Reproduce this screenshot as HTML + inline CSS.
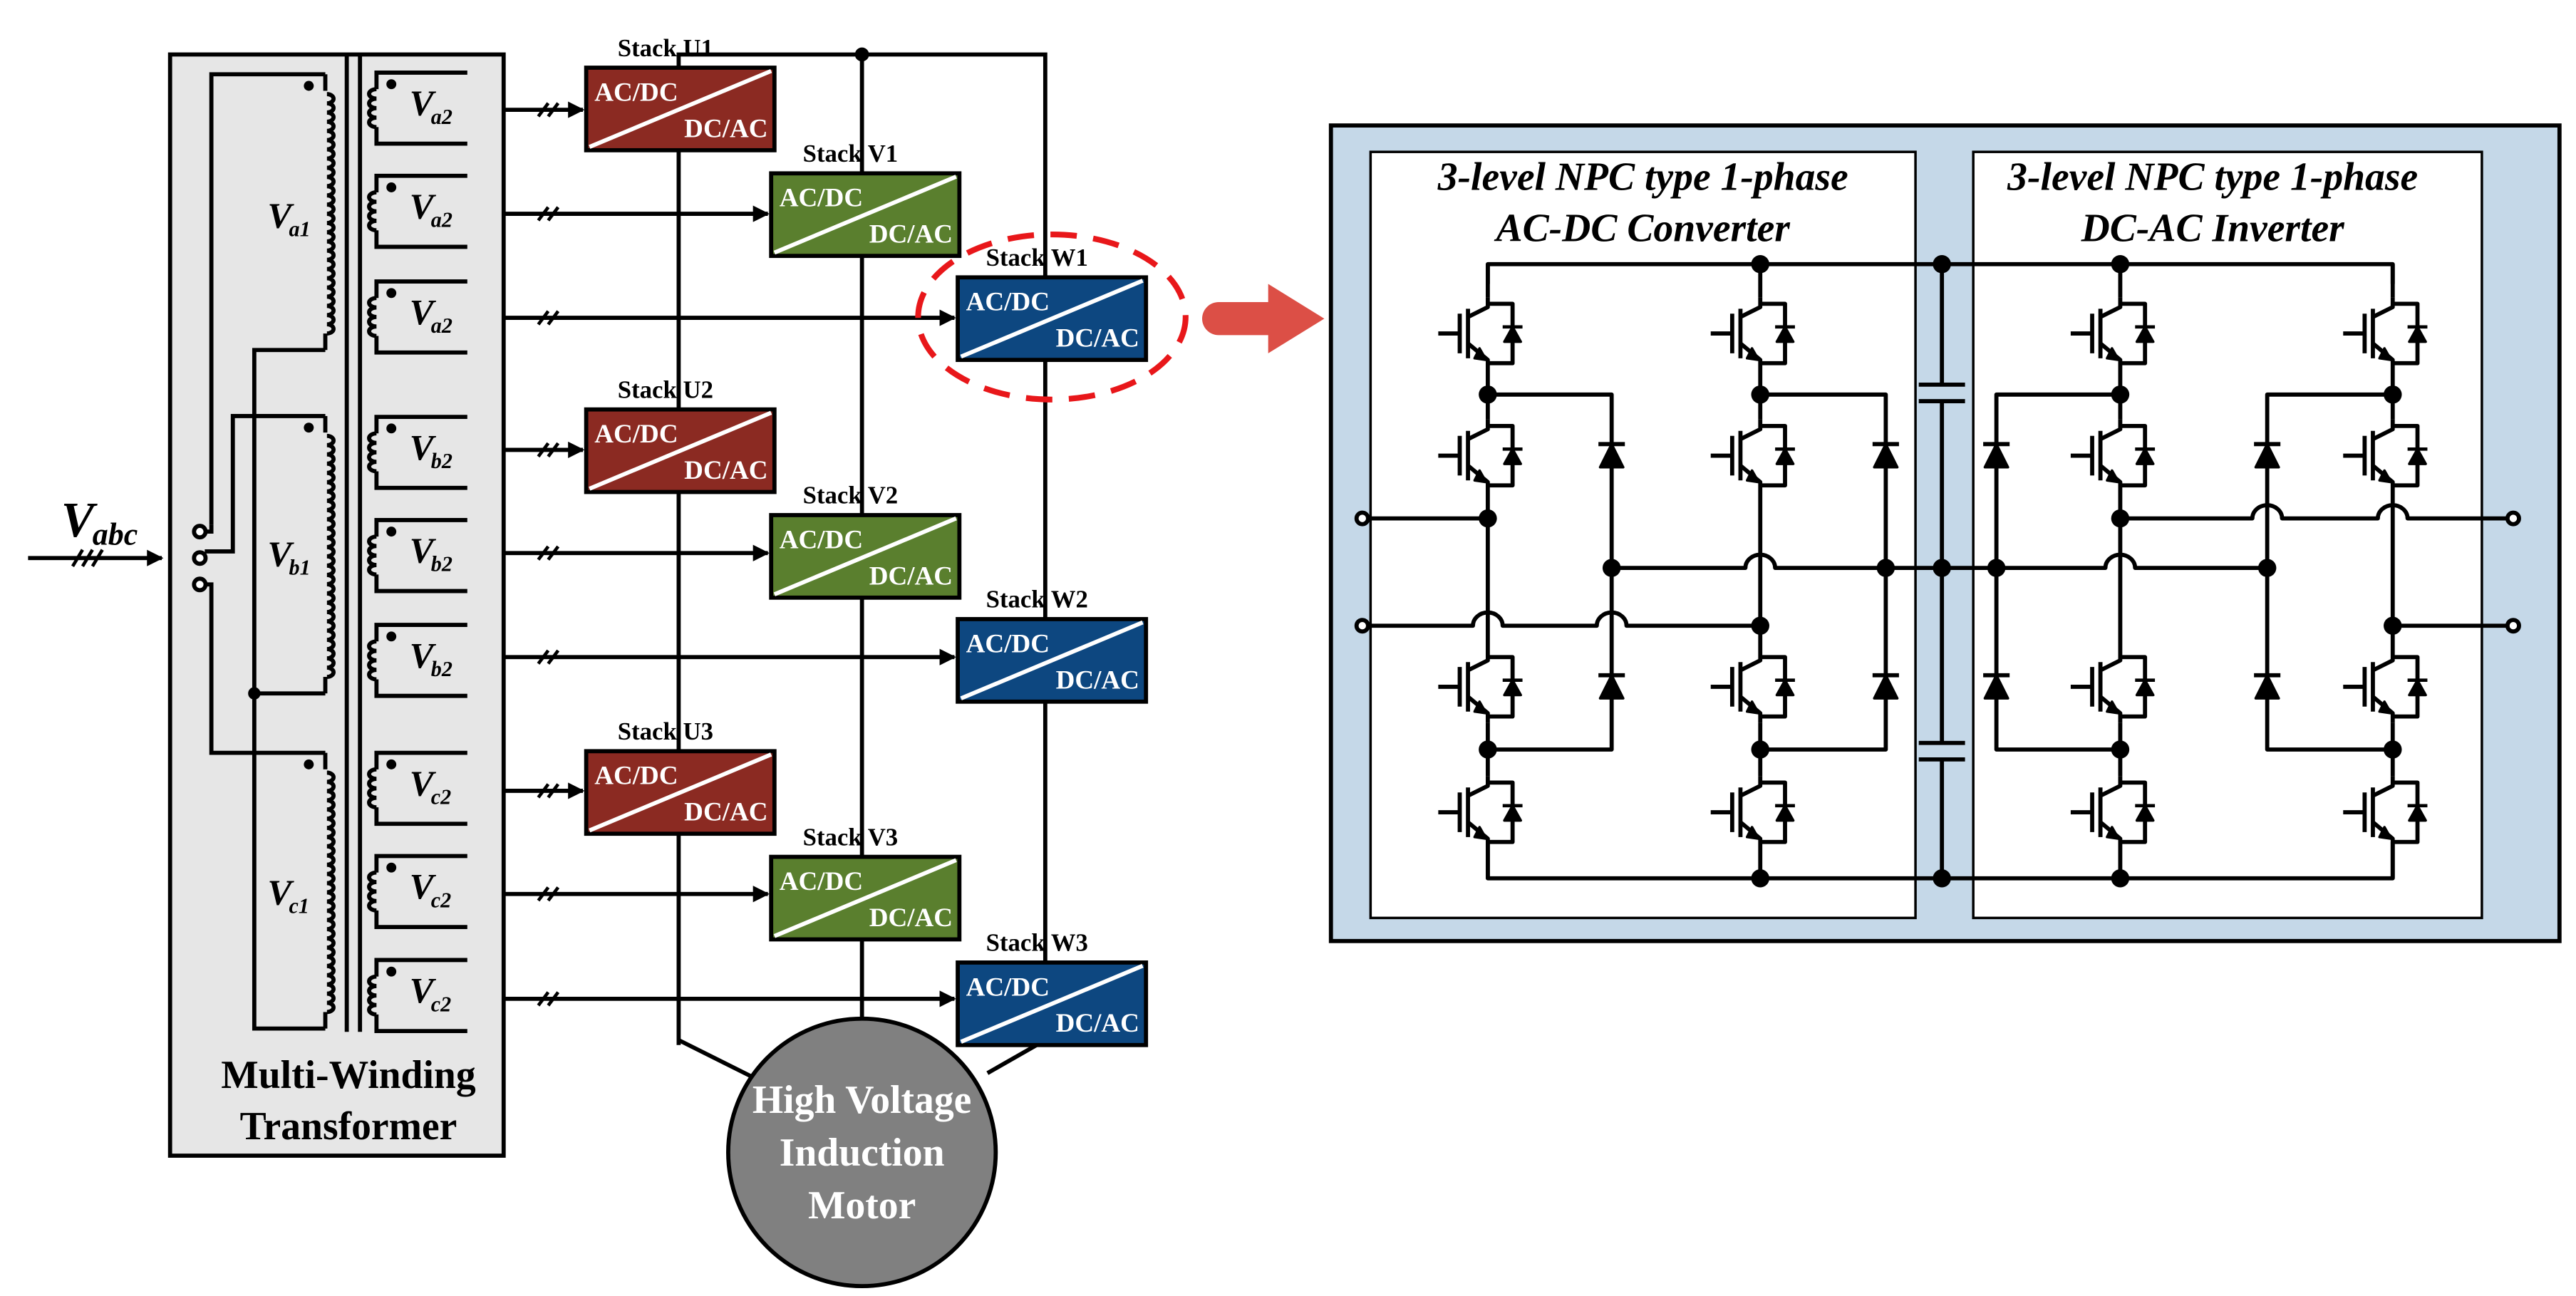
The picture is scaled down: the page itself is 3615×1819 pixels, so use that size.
<!DOCTYPE html>
<html><head><meta charset="utf-8"><style>
html,body{margin:0;padding:0;background:#fff;}
svg{display:block;}
.t{font-family:"Liberation Serif",serif;font-weight:bold;}
</style></head><body>
<svg id="s" width="3615" height="1819" viewBox="0 0 1560 785" preserveAspectRatio="none" xmlns="http://www.w3.org/2000/svg">
<defs>
<marker id="ah" viewBox="0 0 10 10" refX="9" refY="5" markerWidth="4" markerHeight="4" orient="auto"><path d="M0,0L10,5L0,10z" fill="#000"/></marker>
</defs>
<!-- transformer -->
<rect x="103" y="33" width="202" height="667" fill="#e6e6e6" stroke="#000" stroke-width="2.5"/>
<g id="g1" fill="none" stroke="#000" stroke-width="2.5"></g>
<g id="gc" fill="none" stroke="#000" stroke-width="2.5"></g>
<!-- labels -->
<g class="t" font-style="italic" fill="#000">
<text x="37" y="325" font-size="30">V</text><text x="56" y="330" font-size="19">abc</text>
<text x="162" y="138" font-size="22">V</text><text x="175" y="143" font-size="13">a1</text>
<text x="162" y="343" font-size="22">V</text><text x="175" y="348" font-size="13">b1</text>
<text x="162" y="548" font-size="22">V</text><text x="175" y="553" font-size="13">c1</text>
</g>
<g id="sl" class="t" font-style="italic" fill="#000"></g>
<text class="t" x="211" y="659" font-size="24" text-anchor="middle">Multi-Winding</text>
<text class="t" x="211" y="690" font-size="24" text-anchor="middle">Transformer</text>
<!-- stacks -->
<g id="st"></g>
<!-- motor -->
<circle cx="522" cy="698" r="81" fill="#808080" stroke="#000" stroke-width="2.5"/>
<g class="t" fill="#fff" font-size="24" text-anchor="middle">
<text x="522" y="674">High Voltage</text><text x="522" y="706">Induction</text><text x="522" y="738">Motor</text>
</g>
<!-- red ellipse + arrow -->
<ellipse cx="637" cy="192" rx="81" ry="50" fill="none" stroke="#e8171a" stroke-width="3.5" stroke-dasharray="16,10"/>
<path d="M738,183 L768,183 L768,172 L802,193 L768,214 L768,203 L738,203 A10,10 0 0 1 738,183z" fill="#dc4f46"/>
<!-- right panel -->
<rect x="806" y="76" width="744" height="494" fill="#c5d8e8" stroke="#000" stroke-width="2.5"/>
<rect x="830" y="92" width="330" height="464" fill="#fff" stroke="#000" stroke-width="1.5"/>
<rect x="1195" y="92" width="308" height="464" fill="#fff" stroke="#000" stroke-width="1.5"/>
<g class="t" font-style="italic" font-size="24" text-anchor="middle" fill="#000">
<text x="995" y="115">3-level NPC type 1-phase</text><text x="995" y="146">AC-DC Converter</text>
<text x="1340" y="115">3-level NPC type 1-phase</text><text x="1340" y="146">DC-AC Inverter</text>
</g>
<g id="ckt" fill="none" stroke="#000" stroke-width="2.5" stroke-linejoin="round"></g>
</svg>
<script>
var NS="http://www.w3.org/2000/svg";
function el(p,tag,a,txt){var e=document.createElementNS(NS,tag);for(var k in a)e.setAttribute(k,a[k]);if(txt)e.textContent=txt;document.getElementById(p).appendChild(e);return e;}
function P(p,d,extra){var a={d:d};if(extra)for(var k in extra)a[k]=extra[k];return el(p,'path',a);}
// primary coils
function coilR(x,y1,y2,n){var h=(y2-y1)/n,d='M'+x+','+y1;for(var i=0;i<n;i++){d+=' a4,'+(h/2)+' 0 0 1 0,'+h;}return d;}
function coilL(x,y1,y2,n){var h=(y2-y1)/n,d='M'+x+','+y1;for(var i=0;i<n;i++){d+=' a4.5,'+(h/2)+' 0 0 0 0,'+h;}return d;}
var prim=[[45,212],[252,420],[456,623]];
prim.forEach(function(p){
 P('g1','M197,'+p[0]+' L197,'+(p[0]+10));
 P('g1',coilR(198,p[0]+12,p[1]-10,26));
 P('g1','M197,'+(p[1]-10)+' L197,'+p[1]);
 el('g1','circle',{cx:187,cy:p[0]+7,r:3,fill:'#000',stroke:'none'});
});
// primary wiring
P('g1','M197,45 L128,45 L128,318');
P('g1','M197,212 L154,212 L154,623 L197,623');
P('g1','M197,252 L141,252 L141,334 L124,334');
P('g1','M197,420 L154,420');
P('g1','M124,354 L128,354 L128,456 L197,456');
P('g1','M124,322 L128,322 L128,318');
el('g1','circle',{cx:154,cy:420,r:2.5,fill:'#000'});
[322,338,354].forEach(function(y){el('g1','circle',{cx:121,cy:y,r:3.5,fill:'#fff'});});
// core
P('g1','M210,32 L210,625 M218,32 L218,625');
// input arrow
P('g1','M17,338 L98,338',{'marker-end':'url(#ah)'});
P('g1','M44,343 L50,333 M50,343 L56,333 M56,343 L62,333',{'stroke-width':2});
// secondaries
var tops=[44,106.5,170.5,252.5,315,378.5,456,518.5,581.5];
var labs=['a2','a2','a2','b2','b2','b2','c2','c2','c2'];
tops.forEach(function(t,i){var b=t+43;
 P('g1','M283,'+t+' L228,'+t+' L228,'+(t+10));
 P('g1',coilL(228,t+10,b-10,4));
 P('g1','M228,'+(b-10)+' L228,'+b+' L283,'+b);
 el('g1','circle',{cx:237,cy:t+7,r:3,fill:'#000',stroke:'none'});
 el('sl','text',{x:248,y:t+26,'font-size':22},'V');
 el('sl','text',{x:261,y:t+31,'font-size':13},labs[i]);
});
// stacks
var cols={U:[355,'#8b2a22'],V:[467,'#5a7f2e'],W:[580,'#0d4780']};
var rows=[['U1',41],['V1',105],['W1',168],['U2',248],['V2',312],['W2',375],['U3',455],['V3',519],['W3',583]];
var ays=[66.5,129.5,192.5,272.5,335,398,479,541.5,605];
// bus lines first
P('gc','M411,633 L411,33 L633,33 L633,632');
P('gc','M522,33 L522,618');
P('gc','M411,630 L455,652 M633,630 L598,650');
el('gc','circle',{cx:522,cy:33,r:3,fill:'#000'});
rows.forEach(function(r,i){var c=cols[r[0][0]],x=c[0],y=r[1];
 P('gc','M305,'+ays[i]+' L'+(x-2)+','+ays[i],{'marker-end':'url(#ah)'});
 P('gc','M326,'+(ays[i]+4)+' L332,'+(ays[i]-4)+' M332,'+(ays[i]+4)+' L338,'+(ays[i]-4),{'stroke-width':2});
 el('st','rect',{x:x,y:y,width:114,height:50,fill:c[1],stroke:'#000','stroke-width':2.5});
 el('st','path',{d:'M'+(x+2)+','+(y+48)+' L'+(x+112)+','+(y+2),stroke:'#fff','stroke-width':2.5});
 el('st','text',{x:x+5,y:y+20,'font-size':16,fill:'#fff','class':'t'},'AC/DC');
 el('st','text',{x:x+110,y:y+42,'font-size':16,fill:'#fff','class':'t','text-anchor':'end'},'DC/AC');
 el('st','text',{x:x+48,y:y-7,'font-size':15,fill:'#000','class':'t','text-anchor':'middle'},'Stack '+r[0]);
});
// circuit
var C='ckt';
function dot(x,y){el(C,'circle',{cx:x,cy:y,r:5.5,fill:'#000',stroke:'none'});}
function igbt(cx,cy){
 P(C,'M'+cx+','+(cy-22)+' L'+cx+','+(cy-16)+' L'+(cx-12)+','+(cy-10));
 P(C,'M'+(cx-12)+','+(cy+6)+' L'+cx+','+(cy+16)+' L'+cx+','+(cy+22));
 P(C,'M'+(cx-12)+','+(cy-15)+' L'+(cx-12)+','+(cy+15)+' M'+(cx-17)+','+(cy-12)+' L'+(cx-17)+','+(cy+12)+' M'+(cx-30)+','+cy+' L'+(cx-17)+','+cy);
 P(C,'M'+(cx-1)+','+(cy+16)+' l-7,-1 l3,-6z',{fill:'#000','stroke-width':1.5});
 P(C,'M'+cx+','+(cy-18)+' L'+(cx+15)+','+(cy-18)+' L'+(cx+15)+','+(cy+18)+' L'+cx+','+(cy+18));
 P(C,'M'+(cx+15)+','+(cy-4)+' l5,9 l-10,0z',{fill:'#000','stroke-width':1.5});
 P(C,'M'+(cx+9)+','+(cy-4)+' L'+(cx+21)+','+(cy-4),{'stroke-width':2});
}
function diode(x,y){P(C,'M'+x+','+(y-7)+' l7,14 l-14,0z',{fill:'#000','stroke-width':1.5});P(C,'M'+(x-8)+','+(y-7)+' L'+(x+8)+','+(y-7));}
function hopPath(x1,y,x2,hops){hops.sort(function(a,b){return a-b});var d='M'+x1+','+y;hops.forEach(function(h){d+=' L'+(h-9)+','+y+' a9,8 0 0 1 18,0';});d+=' L'+x2+','+y;P(C,d);}
var legs=[901,1066,1284,1449],ys=[202,276,416,492];
// buses
P(C,'M901,172 L901,160 L1449,160 L1449,172');
P(C,'M901,510 L901,532 L1449,532 L1449,510');
legs.forEach(function(x){
 ys.forEach(function(y){igbt(x,y);});
 P(C,'M'+x+',160 L'+x+',180 M'+x+',224 L'+x+',254 M'+x+',298 L'+x+',394 M'+x+',438 L'+x+',470 M'+x+',514 L'+x+',532');
 dot(x,239);dot(x,454);
});
[1066,1284].forEach(function(x){dot(x,160);dot(x,532);});
// clamp diodes
[[901,976],[1066,1142],[1284,1209],[1449,1373]].forEach(function(p){
 var L=p[0],D=p[1];
 P(C,'M'+L+',239 L'+D+',239 L'+D+',454 L'+L+',454');
 diode(D,276);diode(D,416);dot(D,344);
});
// capacitor column
P(C,'M1176,160 L1176,233 M1176,243 L1176,450 M1176,460 L1176,532');
P(C,'M1162,233 L1190,233 M1162,243 L1190,243 M1162,450 L1190,450 M1162,460 L1190,460');
dot(1176,160);dot(1176,344);dot(1176,532);
// mid line
hopPath(976,344,1373,[1066,1284]);
// inputs/outputs
hopPath(825,314,901,[]);dot(901,314);
hopPath(825,379,1066,[901,976]);dot(1066,379);
hopPath(1284,314,1522,[1373,1449]);dot(1284,314);
hopPath(1449,379,1522,[]);dot(1449,379);
[[825,314],[825,379],[1522,314],[1522,379]].forEach(function(p){el(C,'circle',{cx:p[0],cy:p[1],r:3.5,fill:'#fff'});});
</script>
</body></html>
